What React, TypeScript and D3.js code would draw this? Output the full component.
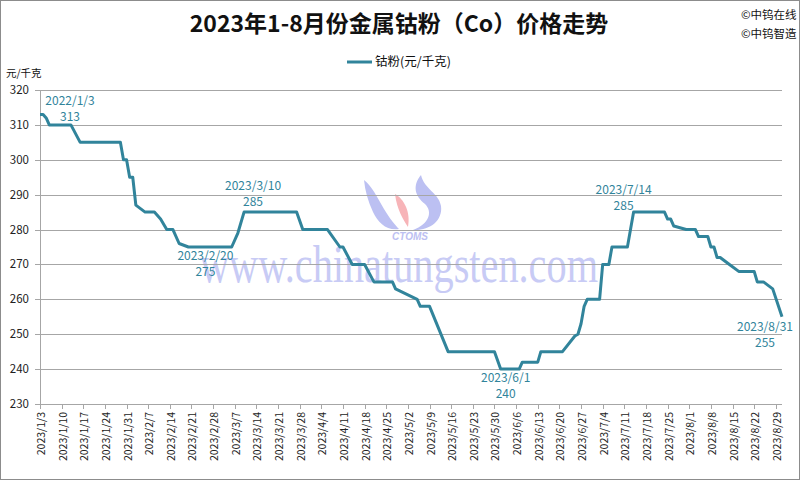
import React, { useEffect, useRef } from 'react';
import * as d3 from 'd3';

// breakpoints of the cobalt powder price line (元/千克)
const dates = [
  '2023-01-03', '2023-01-04', '2023-01-05', '2023-01-06', '2023-01-13', '2023-01-16',
  '2023-01-29', '2023-01-30', '2023-01-31', '2023-02-01', '2023-02-02', '2023-02-03',
  '2023-02-06', '2023-02-09', '2023-02-11', '2023-02-13', '2023-02-15', '2023-02-17',
  '2023-02-20', '2023-03-06', '2023-03-08', '2023-03-10', '2023-03-27', '2023-03-29',
  '2023-04-06', '2023-04-10', '2023-04-11', '2023-04-14', '2023-04-18', '2023-04-21',
  '2023-04-27', '2023-04-28', '2023-05-05', '2023-05-06', '2023-05-09', '2023-05-15',
  '2023-05-30', '2023-06-01', '2023-06-07', '2023-06-08', '2023-06-13', '2023-06-14',
  '2023-06-21', '2023-06-25', '2023-06-26', '2023-06-27', '2023-06-28', '2023-06-29',
  '2023-07-03', '2023-07-04', '2023-07-06', '2023-07-07', '2023-07-12', '2023-07-14',
  '2023-07-24', '2023-07-25', '2023-07-26', '2023-07-27', '2023-07-31', '2023-08-03',
  '2023-08-04', '2023-08-07', '2023-08-08', '2023-08-09', '2023-08-10', '2023-08-11',
  '2023-08-14', '2023-08-17', '2023-08-22', '2023-08-23', '2023-08-25', '2023-08-28',
  '2023-08-31',
];
const prices = [
  313, 313, 312, 310, 310, 305,
  305, 300, 300, 295, 295, 287,
  285, 285, 283, 280, 280, 276,
  275, 275, 279, 285, 285, 280,
  280, 275, 275, 270, 270, 265,
  265, 263, 260, 258, 258, 245,
  245, 240, 240, 242, 242, 245,
  245, 249.5, 250, 253, 258, 260,
  260, 270, 270, 275, 275, 285,
  285, 283, 283, 281, 280, 280,
  278, 278, 275, 275, 272, 272,
  270, 268, 268, 265, 265, 263,
  255,
];

const yTicks = [230, 240, 250, 260, 270, 280, 290, 300, 310, 320];

// annotated points
const labelTexts = ['2022/1/3', '2023/2/20', '2023/3/10', '2023/6/1', '2023/7/14', '2023/8/31'];
const labelDates = ['2023-01-03', '2023-02-20', '2023-03-10', '2023-06-01', '2023-07-14', '2023-08-31'];
const labelValues = [313, 275, 285, 240, 285, 255];

const TITLE = '2023年1-8月份金属钴粉（Co）价格走势';
const LINE_COLOR = '#31849B';

export default function App() {
  const svgRef = useRef<SVGSVGElement>(null);

  useEffect(() => {
    document.body.style.margin = '0';
    if (!svgRef.current) return;
    const W = 800, H = 480;
    const svg = d3.select(svgRef.current);
    svg.selectAll('*').remove();

    const parse = d3.utcParse('%Y-%m-%d');
    const data = dates.map((d, i) => ({ date: parse(d)!, value: prices[i] }));

    const left = 40, right = 782, top = 90, bottom = 404;
    const start = parse('2023-01-03')!;
    const x = d3.scaleUtc().domain([start, parse('2023-08-31')!]).range([left, right]);
    const y = d3.scaleLinear().domain([230, 320]).range([bottom, top]);

    const sans = '"Noto Sans CJK SC", "Noto Sans", sans-serif';

    // frame
    svg.append('rect').attr('x', 0.5).attr('y', 0.5)
      .attr('width', W - 1).attr('height', H - 1)
      .attr('fill', '#fff').attr('stroke', '#8c8c8c');

    // watermark (logo + site name)
    const wm = svg.append('g').attr('class', 'watermark');
    wm.append('path')
      .attr('d', 'M364,180 C372,186 377,197 384,209 C390,219 395,225 399,229 C387,231 378,223 373,212 C368,201 365,191 364,180 Z')
      .attr('fill', '#bcc0f2');
    wm.append('path')
      .attr('d', 'M421,175 C412,186 415,196 425,204 C433,212 429,224 413,230 C429,231 443,221 441,206 C439,193 424,189 421,175 Z')
      .attr('fill', '#bcc0f2');
    wm.append('path')
      .attr('d', 'M395,194 C404,199 411,212 408,227 C403,219 397,210 395,194 Z')
      .attr('fill', '#f7b4b8');
    wm.append('text').attr('x', 410).attr('y', 240)
      .attr('text-anchor', 'middle').attr('font-family', '"Liberation Sans", sans-serif')
      .attr('font-style', 'italic').attr('font-weight', 'bold')
      .attr('font-size', 10).attr('fill', '#bcc0f2').text('CTOMS');
    wm.append('text').attr('x', 200).attr('y', 282)
      .attr('font-family', '"Liberation Serif", "DejaVu Serif", serif')
      .attr('font-size', 52).attr('fill', '#c8cbf5')
      .attr('textLength', 398).attr('lengthAdjust', 'spacingAndGlyphs')
      .text('www.chinatungsten.com');

    // gridlines + y labels
    const grid = svg.append('g').attr('class', 'grid');
    yTicks.forEach(t => {
      const py = Math.round(y(t)) + 0.5;
      grid.append('line')
        .attr('x1', left - 5).attr('x2', right)
        .attr('y1', py).attr('y2', py)
        .attr('stroke', '#a6a6a6').attr('stroke-width', 1);
      grid.append('text')
        .attr('x', 29).attr('y', y(t) + 4)
        .attr('text-anchor', 'end').attr('font-family', sans)
        .attr('font-size', 11.5).attr('fill', '#222').text(t);
    });
    svg.append('line')
      .attr('x1', left + 0.5).attr('x2', left + 0.5)
      .attr('y1', top).attr('y2', bottom)
      .attr('stroke', '#a6a6a6');

    // x axis, one tick per week
    const weekTicks = d3.range(0, 35).map(i => d3.utcDay.offset(start, i * 7));
    const fmt = d3.utcFormat('%Y/%-m/%-d');
    const xa = svg.append('g').attr('class', 'x-axis');
    weekTicks.forEach(d => {
      const px = Math.round(x(d)) + 0.5;
      xa.append('line').attr('x1', px).attr('x2', px)
        .attr('y1', bottom).attr('y2', bottom + 5).attr('stroke', '#a6a6a6');
      xa.append('text')
        .attr('transform', `translate(${px + 4},${bottom + 8}) rotate(-90)`)
        .attr('text-anchor', 'end').attr('font-family', sans)
        .attr('font-size', 10.5).attr('fill', '#222').text(fmt(d));
    });

    // price line
    const line = d3.line<{ date: Date; value: number }>()
      .x(d => x(d.date)).y(d => y(d.value));
    svg.append('path').datum(data)
      .attr('d', line)
      .attr('fill', 'none').attr('stroke', LINE_COLOR)
      .attr('stroke-width', 3).attr('stroke-linejoin', 'round');

    // data labels: offset of the date line from the point
    const offsets: [number, number][] = [
      [30, -9], [17, 13], [9, -22], [5, 13], [-10, -18], [-17, 14],
    ];
    const lab = svg.append('g').attr('class', 'labels')
      .attr('font-family', sans).attr('font-size', 12).attr('fill', LINE_COLOR)
      .attr('text-anchor', 'middle');
    labelDates.forEach((ds, i) => {
      const px = x(parse(ds)!) + offsets[i][0];
      const py = y(labelValues[i]) + offsets[i][1];
      lab.append('text').attr('x', px).attr('y', py).text(labelTexts[i]);
      lab.append('text').attr('x', px).attr('y', py + 16).text(labelValues[i]);
    });

    // title
    svg.append('text').attr('x', 399).attr('y', 32)
      .attr('text-anchor', 'middle').attr('font-family', sans)
      .attr('font-weight', 'bold').attr('font-size', 23).attr('fill', '#111')
      .text(TITLE);
    svg.append('text').attr('x', 741).attr('y', 19)
      .attr('font-family', sans).attr('font-size', 11.5).attr('fill', '#111')
      .text('©中钨在线');
    svg.append('text').attr('x', 741).attr('y', 38)
      .attr('font-family', sans).attr('font-size', 11.5).attr('fill', '#111')
      .text('©中钨智造');

    // legend
    svg.append('line').attr('x1', 347).attr('x2', 372)
      .attr('y1', 62).attr('y2', 62)
      .attr('stroke', LINE_COLOR).attr('stroke-width', 3);
    svg.append('text').attr('x', 375).attr('y', 66)
      .attr('font-family', sans).attr('font-size', 12.5).attr('fill', '#111')
      .text('钴粉(元/千克)');

    // unit
    svg.append('text').attr('x', 6).attr('y', 77)
      .attr('font-family', sans).attr('font-size', 10.5).attr('fill', '#111')
      .text('元/千克');
  }, []);

  return <svg ref={svgRef} width={800} height={480} style={{ display: 'block' }} />;
}
